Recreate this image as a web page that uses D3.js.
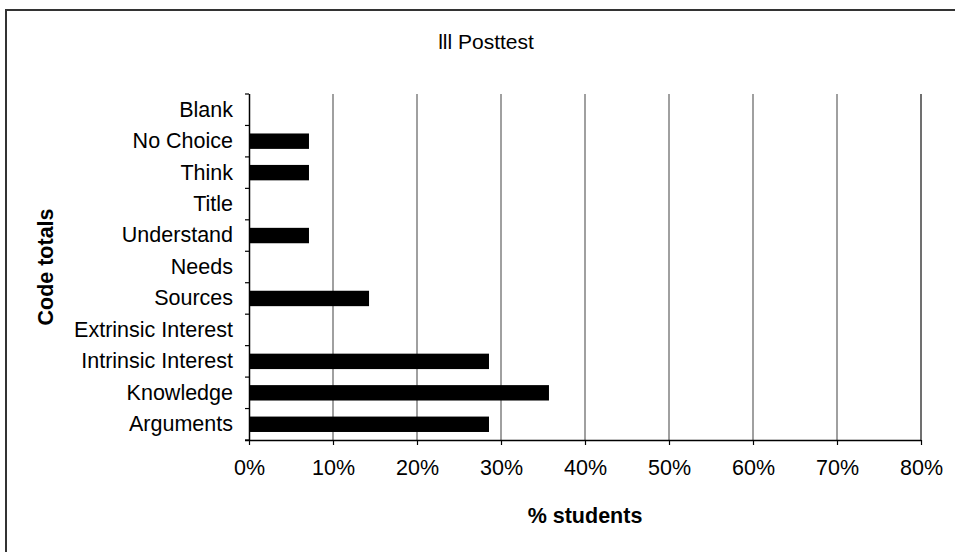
<!DOCTYPE html>
<html>
<head>
<meta charset="utf-8">
<script src="https://cdn.jsdelivr.net/npm/d3@7"></script>
<style>
  html, body { margin: 0; padding: 0; background: #fff; }
  svg { display: block; font-family: "Liberation Sans", Arial, sans-serif; }
</style>
</head>
<body>
<svg id="chart" width="955" height="552"></svg>
<script>
// Categories listed top to bottom
const categories = ["Blank", "No Choice", "Think", "Title", "Understand", "Needs",
  "Sources", "Extrinsic Interest", "Intrinsic Interest", "Knowledge", "Arguments"];
// % students per category
const values = [0, 7.14, 7.14, 0, 7.14, 0, 14.29, 0, 28.57, 35.71, 28.57];
const xTicks = [0, 10, 20, 30, 40, 50, 60, 70, 80];
const titleText = "lll Posttest";
const xTitle = "% students";
const yTitle = "Code totals";

const svg = d3.select("#chart");
const plot = { left: 249, right: 921, top: 94, bottom: 440 };
const FS = 21.5;

// outer border (extends beyond the visible picture on right/bottom)
svg.append("rect")
  .attr("x", 6).attr("y", 10)
  .attr("width", 1000).attr("height", 600)
  .attr("fill", "#fff").attr("stroke", "#333").attr("stroke-width", 2);

const x = d3.scaleLinear().domain([0, 80]).range([plot.left, plot.right]);
const y = d3.scaleBand().domain(categories).range([plot.top, plot.bottom]).paddingInner(0).paddingOuter(0);

// gridlines
svg.append("g").selectAll("line")
  .data(xTicks.filter(d => d > 0))
  .join("line")
  .attr("x1", d => x(d)).attr("x2", d => x(d))
  .attr("y1", plot.top).attr("y2", plot.bottom)
  .attr("stroke", d => d === 80 ? "#404040" : "#808080")
  .attr("stroke-width", 1.5);

// bars
const data = categories.map((c, i) => ({ c, v: values[i] }));
const barH = y.bandwidth() * 0.49;
svg.append("g").selectAll("rect")
  .data(data.filter(d => d.v > 0))
  .join("rect")
  .attr("x", x(0))
  .attr("y", d => y(d.c) + (y.bandwidth() - barH) / 2)
  .attr("width", d => x(d.v) - x(0))
  .attr("height", barH)
  .attr("fill", "#000");

// x axis
const xAxis = d3.axisBottom(x).tickValues(xTicks).tickFormat(d => d + "%").tickSize(5).tickPadding(15);
const gx = svg.append("g").attr("transform", `translate(0,${plot.bottom})`).call(xAxis);
gx.select(".domain").attr("d", `M${plot.left - 4},0.5H${plot.right}`).attr("stroke", "#000").attr("stroke-width", 1.5);
gx.selectAll(".tick line").attr("stroke", "#000").attr("stroke-width", 1.2);
gx.selectAll(".tick text").attr("font-size", FS).attr("fill", "#000")
  .attr("font-family", '"Liberation Sans", Arial, sans-serif');

// y axis
const yAxis = d3.axisLeft(y).tickSize(0).tickPadding(16);
const gy = svg.append("g").attr("transform", `translate(${plot.left},0)`).call(yAxis);
gy.select(".domain").attr("d", `M0.5,${plot.top}V${plot.bottom}`).attr("stroke", "#000").attr("stroke-width", 1.5);
gy.selectAll(".tick text").attr("font-size", FS).attr("fill", "#000")
  .attr("font-family", '"Liberation Sans", Arial, sans-serif');
// y boundary ticks between categories
const bounds = categories.map(c => y(c)).concat([plot.bottom]);
svg.append("g").selectAll("line")
  .data(bounds)
  .join("line")
  .attr("x1", plot.left - 4).attr("x2", plot.left)
  .attr("y1", d => d).attr("y2", d => d)
  .attr("stroke", "#000").attr("stroke-width", 1.2);

// title
svg.append("text")
  .attr("x", 486).attr("y", 49)
  .attr("text-anchor", "middle")
  .attr("font-size", 21)
  .text(titleText);

// x title
svg.append("text")
  .attr("x", (plot.left + plot.right) / 2).attr("y", 523)
  .attr("text-anchor", "middle")
  .attr("font-size", FS).attr("font-weight", "bold")
  .text(xTitle);

// y title
svg.append("text")
  .attr("transform", `translate(53,${(plot.top + plot.bottom) / 2}) rotate(-90)`)
  .attr("text-anchor", "middle")
  .attr("font-size", FS).attr("font-weight", "bold")
  .text(yTitle);
</script>
</body>
</html>
